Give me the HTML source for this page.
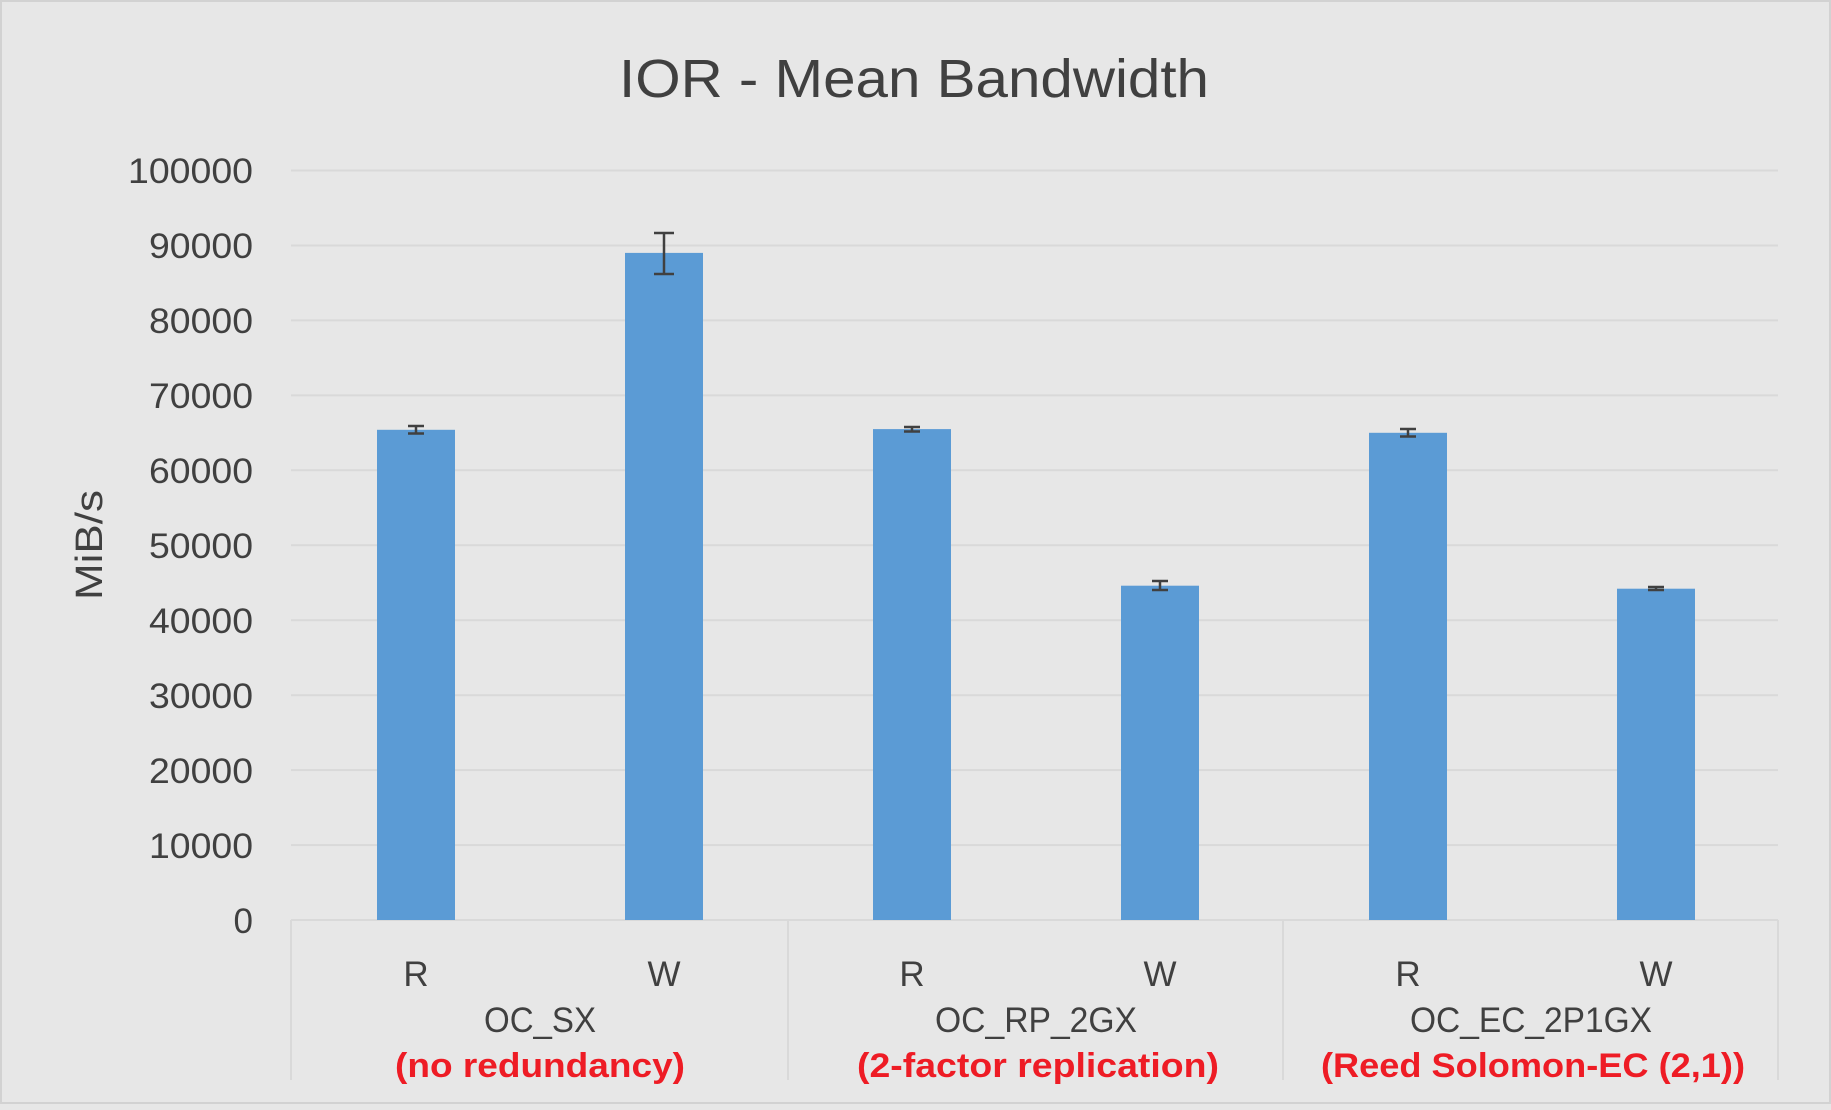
<!DOCTYPE html>
<html><head><style>html,body{margin:0;padding:0;background:#e7e7e7}</style></head><body>
<svg width="1831" height="1105" xmlns="http://www.w3.org/2000/svg" font-family="Liberation Sans, sans-serif">
<rect x="0" y="0" width="1831" height="1105" fill="#e7e7e7"/>
<rect x="1" y="1" width="1829" height="1102" fill="none" stroke="#d2d2d2" stroke-width="2"/>
<text x="914" y="97" font-size="54" fill="#404040" text-anchor="middle" textLength="590" lengthAdjust="spacingAndGlyphs">IOR - Mean Bandwidth</text>
<g stroke="#d9d9d9" stroke-width="2">
<line x1="291" x2="1778" y1="170.5" y2="170.5"/><line x1="291" x2="1778" y1="245.5" y2="245.5"/>
<line x1="291" x2="1778" y1="320.4" y2="320.4"/><line x1="291" x2="1778" y1="395.4" y2="395.4"/>
<line x1="291" x2="1778" y1="470.3" y2="470.3"/><line x1="291" x2="1778" y1="545.3" y2="545.3"/>
<line x1="291" x2="1778" y1="620.2" y2="620.2"/><line x1="291" x2="1778" y1="695.2" y2="695.2"/>
<line x1="291" x2="1778" y1="770.1" y2="770.1"/><line x1="291" x2="1778" y1="845.1" y2="845.1"/>
<line x1="291" x2="1778" y1="920" y2="920"/>
<line x1="291" x2="291" y1="920" y2="1080"/><line x1="788" x2="788" y1="920" y2="1080"/>
<line x1="1283" x2="1283" y1="920" y2="1080"/><line x1="1778" x2="1778" y1="920" y2="1080"/>
</g>
<g font-size="35" fill="#404040" text-anchor="end">
<text x="253" y="183" textLength="125" lengthAdjust="spacingAndGlyphs">100000</text><text x="253" y="258" textLength="104" lengthAdjust="spacingAndGlyphs">90000</text><text x="253" y="333" textLength="104" lengthAdjust="spacingAndGlyphs">80000</text>
<text x="253" y="408" textLength="104" lengthAdjust="spacingAndGlyphs">70000</text><text x="253" y="483" textLength="104" lengthAdjust="spacingAndGlyphs">60000</text><text x="253" y="558" textLength="104" lengthAdjust="spacingAndGlyphs">50000</text>
<text x="253" y="633" textLength="104" lengthAdjust="spacingAndGlyphs">40000</text><text x="253" y="708" textLength="104" lengthAdjust="spacingAndGlyphs">30000</text><text x="253" y="783" textLength="104" lengthAdjust="spacingAndGlyphs">20000</text>
<text x="253" y="858" textLength="104" lengthAdjust="spacingAndGlyphs">10000</text><text x="253" y="933">0</text>
</g>
<text transform="translate(102,545) rotate(-90)" font-size="38" fill="#404040" text-anchor="middle" textLength="110" lengthAdjust="spacingAndGlyphs">MiB/s</text>
<g fill="#5b9bd5">
<rect x="377" y="429.8" width="78" height="490.2"/>
<rect x="625" y="252.9" width="78" height="667.1"/>
<rect x="873" y="429.1" width="78" height="490.9"/>
<rect x="1121" y="585.7" width="78" height="334.3"/>
<rect x="1369" y="432.8" width="78" height="487.2"/>
<rect x="1617" y="588.7" width="78" height="331.3"/>
</g>
<g stroke="#404040" stroke-width="2.5" fill="none">
<path d="M416 426v7.5M408 426h16M408 433.5h16"/>
<path d="M664 233v41M654 233h20M654 274h20"/>
<path d="M912 427v4.5M904 427h16M904 431.5h16"/>
<path d="M1160 581v9M1152 581h16M1152 590h16"/>
<path d="M1408 429v7.5M1400 429h16M1400 436.5h16"/>
<path d="M1656 587v3M1648 587h16M1648 590h16"/>
</g>
<g font-size="35" fill="#404040" text-anchor="middle">
<text x="416" y="986">R</text><text x="664" y="986">W</text>
<text x="912" y="986">R</text><text x="1160" y="986">W</text>
<text x="1408" y="986">R</text><text x="1656" y="986">W</text>
<text x="540" y="1032" textLength="112" lengthAdjust="spacingAndGlyphs">OC_SX</text><text x="1036" y="1032" textLength="202" lengthAdjust="spacingAndGlyphs">OC_RP_2GX</text><text x="1531" y="1032" textLength="242" lengthAdjust="spacingAndGlyphs">OC_EC_2P1GX</text>
</g>
<g font-size="34" font-weight="bold" fill="#ee1c25" text-anchor="middle">
<text x="540" y="1077" textLength="290" lengthAdjust="spacingAndGlyphs">(no redundancy)</text>
<text x="1038" y="1077" textLength="362" lengthAdjust="spacingAndGlyphs">(2-factor replication)</text>
<text x="1533" y="1077" textLength="424" lengthAdjust="spacingAndGlyphs">(Reed Solomon-EC (2,1))</text>
</g>
</svg>
</body></html>
